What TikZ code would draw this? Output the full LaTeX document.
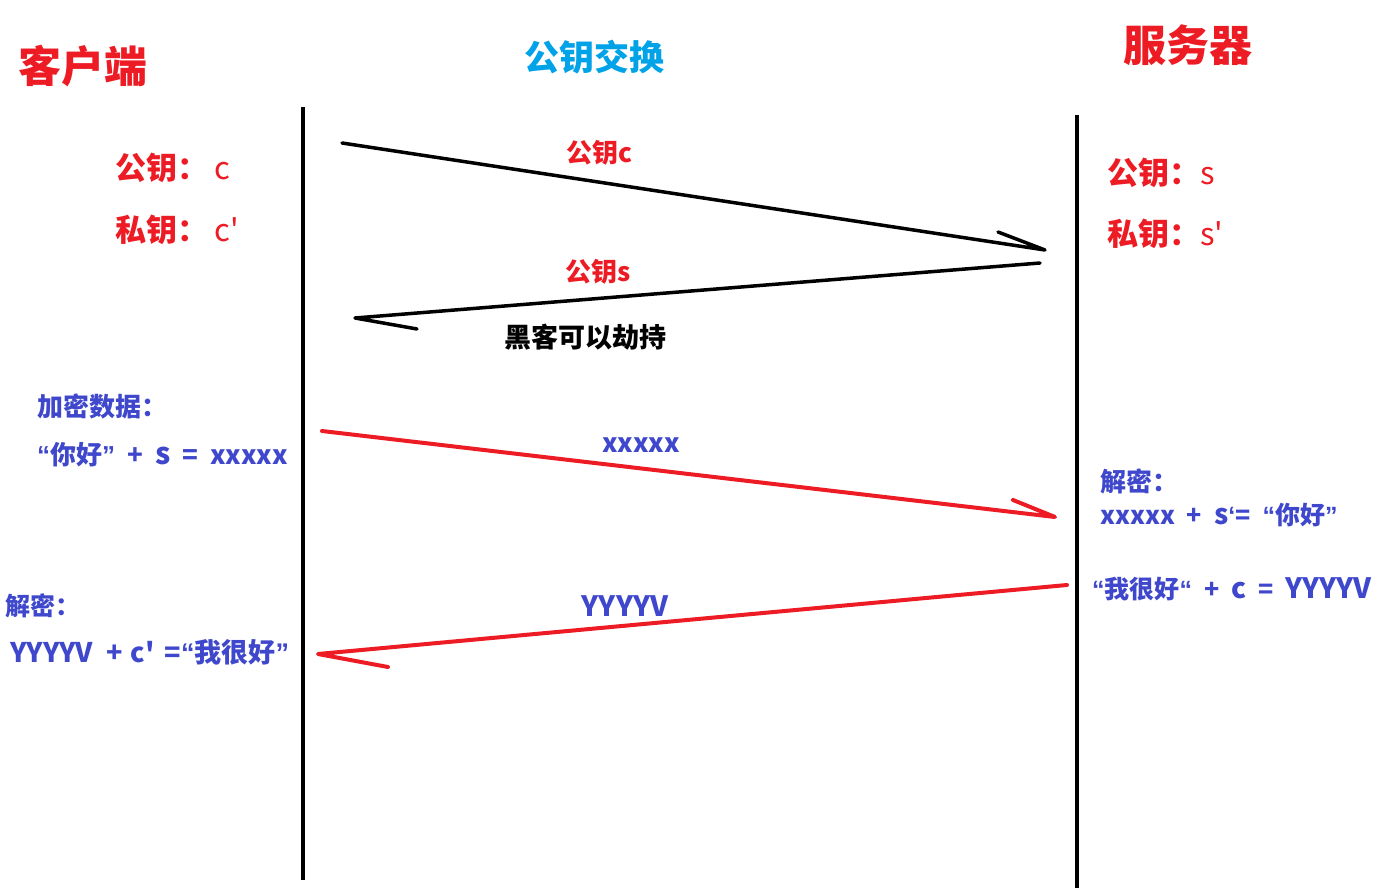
\documentclass[tikz,border=0pt]{standalone}
\usepackage{fontspec}
\setmainfont{Noto Sans CJK SC}[Ligatures=TeXOff]
\newfontfamily\qf{Liberation Sans}[Ligatures=TeXOff]
\definecolor{pred}{RGB}{237,28,36}
\definecolor{pcyan}{RGB}{0,162,232}
\definecolor{pblue}{RGB}{63,72,204}
\newcommand\gapsp{\hspace{12pt}}
\newcommand\qopen{{\qf “}}
\newcommand\qclose{{\qf ”}}
\newcommand\qsopen{{\qf ‘}}
\tikzset{
  lifeline/.style={line width=3.5pt, black},
  msgblack/.style={line width=3.5pt, black, line cap=round, line join=round},
  msgred/.style={line width=4pt, pred, line cap=round, line join=round},
  lbl/.style={inner sep=0pt, font=\bfseries},
}
\begin{document}
\begin{tikzpicture}[x=1pt,y=-1pt]
\useasboundingbox (0,0) rectangle (1388,890);
\fill[white] (0,0) rectangle (1388,890);
% titles
\node[lbl, text=pred, font=\bfseries\fontsize{43}{43}\selectfont] (client) at (83,66) {客户端};
\node[lbl, text=pcyan, font=\bfseries\fontsize{35}{35}\selectfont] (title) at (594,57) {公钥交换};
\node[lbl, text=pred, font=\bfseries\fontsize{43}{43}\selectfont] (server) at (1188,45) {服务器};
% lifelines
\coordinate (l1) at (303,107); \coordinate (l2) at (303,880);
\coordinate (r1) at (1077,115); \coordinate (r2) at (1077,888);
\draw[lifeline] (l1) -- (l2);
\draw[lifeline] (r1) -- (r2);
% keys
\node[lbl, text=pred, anchor=west, font=\bfseries\fontsize{31}{31}\selectfont] (cpub) at (115,168) {公钥：\hspace{6pt}{\mdseries c}};
\node[lbl, text=pred, anchor=west, font=\bfseries\fontsize{31}{31}\selectfont] (cpri) at (115,230) {私钥：\hspace{6pt}{\mdseries c'}};
\node[lbl, text=pred, anchor=west, font=\bfseries\fontsize{31}{31}\selectfont] (spub) at (1107,173) {公钥：{\mdseries s}};
\node[lbl, text=pred, anchor=west, font=\bfseries\fontsize{31}{31}\selectfont] (spri) at (1107,234) {私钥：{\mdseries s'}};
% arrow 1 black
\coordinate (a1s) at (342,143); \coordinate (a1e) at (1045,250); \coordinate (a1b) at (998,232);
\draw[msgblack] (a1s) -- (a1e) -- (a1b);
\node[lbl, text=pred, font=\bfseries\fontsize{26}{26}\selectfont] (m1) at (599,153) {公钥c};
% arrow 2 black
\coordinate (a2s) at (1040,263); \coordinate (a2e) at (355,318); \coordinate (a2b) at (417,329);
\draw[msgblack] (a2s) -- (a2e) -- (a2b);
\node[lbl, text=pred, font=\bfseries\fontsize{26}{26}\selectfont] (m2) at (598,272) {公钥s};
\node[lbl, text=black, font=\bfseries\fontsize{27}{27}\selectfont] (hack) at (585,337) {黑客可以劫持};
% left encrypt
\node[lbl, text=pblue, anchor=west, font=\bfseries\fontsize{26}{26}\selectfont] (enc) at (37,406) {加密数据：};
\node[lbl, text=pblue, anchor=west, font=\bfseries\fontsize{26}{26}\selectfont] (encf) at (37,455) {\qopen 你好\qclose\gapsp+\gapsp{\fontsize{30}{30}\selectfont s}\gapsp=\gapsp xxxxx};
% red arrow 1
\coordinate (a3s) at (322,431); \coordinate (a3e) at (1055,517); \coordinate (a3b) at (1013,500);
\draw[msgred] (a3s) -- (a3e) -- (a3b);
\node[lbl, text=pblue, font=\bfseries\fontsize{26}{26}\selectfont] (m3) at (641,445) {xxxxx};
% right decrypt
\node[lbl, text=pblue, anchor=west, font=\bfseries\fontsize{26}{26}\selectfont] (dec) at (1100,481) {解密：};
\node[lbl, text=pblue, anchor=west, font=\bfseries\fontsize{25}{25}\selectfont] (decf) at (1100,515) {xxxxx\gapsp+\gapsp{\fontsize{28}{28}\selectfont s}\qsopen=\gapsp\qopen 你好\qclose};
\node[lbl, text=pblue, anchor=west, font=\bfseries\fontsize{25}{25}\selectfont] (encr) at (1092,589) {\qopen 我很好\qopen\gapsp+\gapsp{\fontsize{28}{28}\selectfont c}\gapsp=\gapsp{\fontsize{28}{28}\selectfont YYYYV}};
% red arrow 2
\coordinate (a4s) at (1067,585); \coordinate (a4e) at (318,654); \coordinate (a4b) at (388,667);
\draw[msgred] (a4s) -- (a4e) -- (a4b);
\node[lbl, text=pblue, font=\bfseries\fontsize{28}{28}\selectfont] (m4) at (625,606) {YYYYV};
% left decrypt
\node[lbl, text=pblue, anchor=west, font=\bfseries\fontsize{25}{25}\selectfont] (decl) at (5,606) {解密：};
\node[lbl, text=pblue, anchor=west, font=\bfseries\fontsize{27}{27}\selectfont] (declf) at (10,652) {YYYYV\hspace{13pt}+\hspace{8pt}c'\hspace{10pt}=\qopen 我很好\qclose};
\end{tikzpicture}
\end{document}
